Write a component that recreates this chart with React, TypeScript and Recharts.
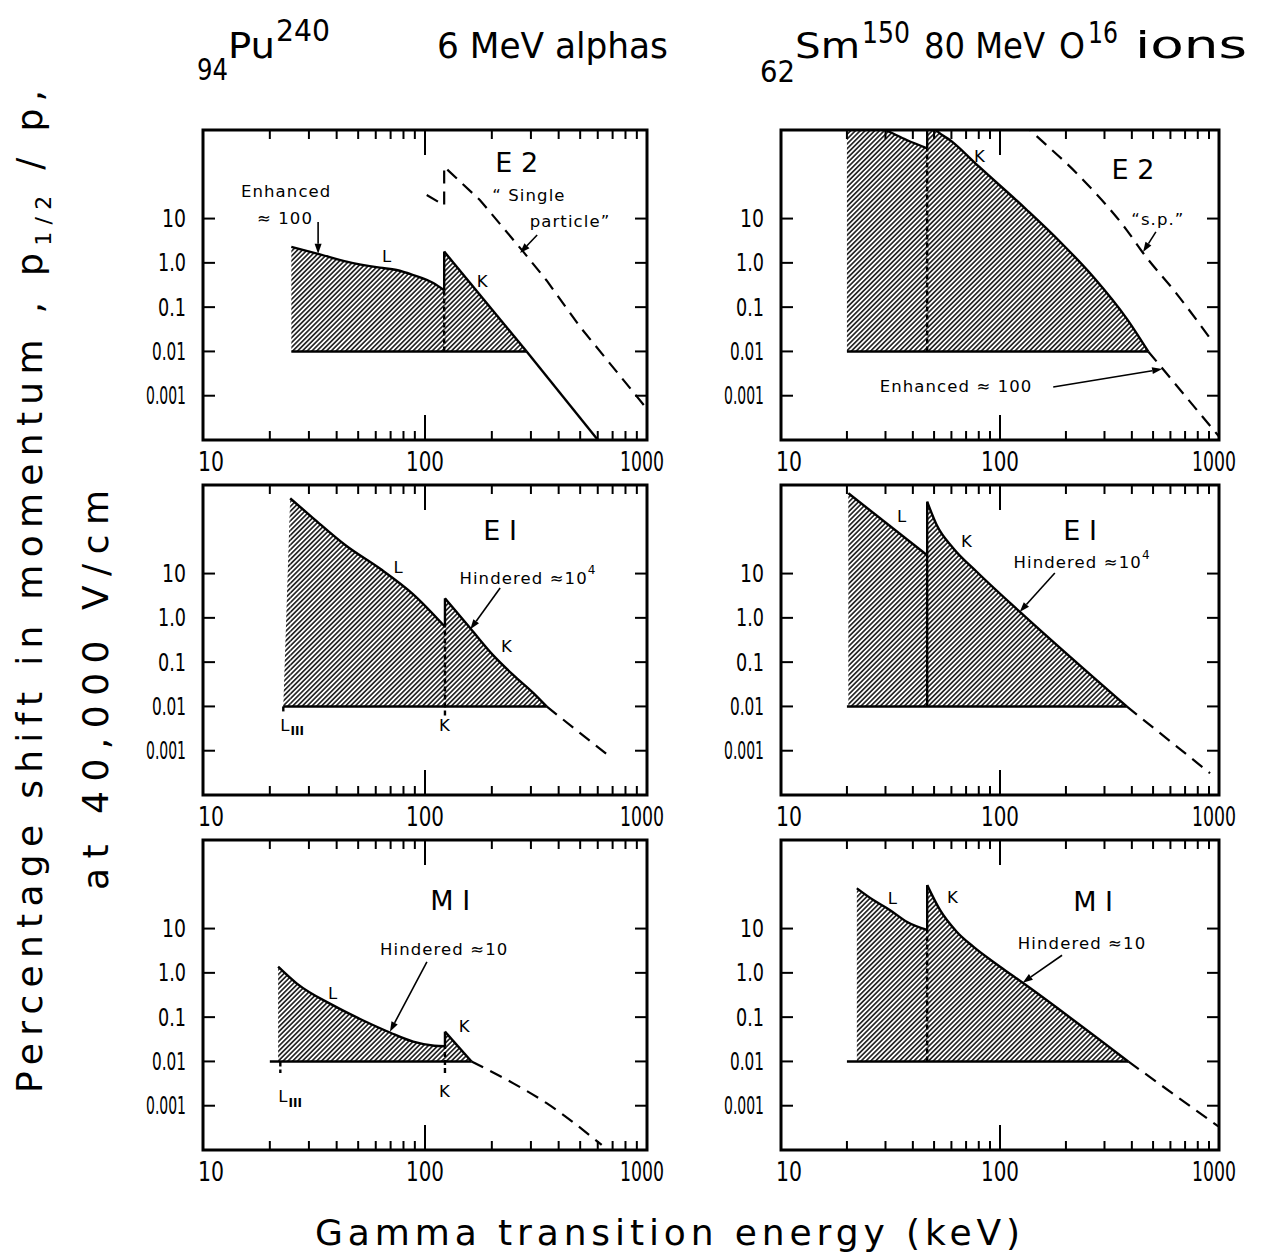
import React from "react";
import {
  ComposedChart,
  Area,
  Line,
  XAxis,
  YAxis,
  ReferenceLine,
  ReferenceDot,
  ReferenceArea,
} from "recharts";

type Pt = { e: number; v: number };
interface Lbl { e: number; v: number; text: string; sup?: string; sub?: string; big?: boolean }
interface Arrow { from: Pt; to: Pt }

const BASE = 0.01;
const X_DOMAIN = [10, 1000];
const Y_DOMAIN = [1e-4, 1e3];
const xTicks = [10, 100, 1000];
const xTickLabels = ["10", "100", "1000"];
const yTicks = [10, 1, 0.1, 0.01, 0.001];
const yTickLabels = ["10", "1.0", "0.1", "0.01", "0.001"];
const xMinorTicks = [20, 30, 40, 50, 60, 70, 80, 90, 200, 300, 400, 500, 600, 700, 800, 900];
const xMajorTicks = [100];

// ---------- Pu-240, E2 ----------
const puE2L: Pt[] = [
  { e: 25, v: 2.3 }, { e: 33.6, v: 1.56 }, { e: 44.3, v: 1.07 }, { e: 62.6, v: 0.78 },
  { e: 74.5, v: 0.69 }, { e: 88.5, v: 0.53 }, { e: 109, v: 0.35 }, { e: 122, v: 0.24 },
];
const puE2K: Pt[] = [{ e: 122, v: 1.8 }, { e: 287, v: 0.01 }];
const puE2Tail: Pt[] = [{ e: 287, v: 0.01 }, { e: 601, v: 1e-4 }];
const puE2Base: Pt[] = [{ e: 25, v: 0.01 }, { e: 287, v: 0.01 }];
const puE2EdgeDash: Pt[] = [{ e: 122, v: 0.01 }, { e: 122, v: 0.24 }];
const puE2EdgeSolid: Pt[] = [{ e: 122, v: 0.24 }, { e: 122, v: 1.8 }];
const puE2SP: Pt[] = [
  { e: 101.8, v: 34 }, { e: 122, v: 20 }, { e: 122, v: 148 }, { e: 177, v: 26 },
  { e: 277, v: 1.79 }, { e: 353, v: 0.4 }, { e: 499, v: 0.036 }, { e: 980, v: 5.7e-4 },
];
const puE2Labels: Lbl[] = [
  { e: 259, v: 180, text: "E 2", big: true },
  { e: 294, v: 34, text: "\u201C Single" },
  { e: 450, v: 8.4, text: "particle\u201D" },
  { e: 23.7, v: 40, text: "Enhanced" },
  { e: 23.4, v: 10.3, text: "\u2248 100" },
  { e: 67.5, v: 1.36, text: "L" },
  { e: 182, v: 0.37, text: "K" },
];
const puE2Arrows: Arrow[] = [
  { from: { e: 33, v: 8.4 }, to: { e: 33, v: 1.6 } },
  { from: { e: 320, v: 4.26 }, to: { e: 268, v: 1.67 } },
];

// ---------- Sm-150, E2 ----------
const smE2L: Pt[] = [
  { e: 20, v: 2200 }, { e: 25, v: 1450 }, { e: 30, v: 1000 }, { e: 37.5, v: 595 }, { e: 46.5, v: 387 },
];
const smE2K: Pt[] = [
  { e: 46.5, v: 1800 }, { e: 51, v: 1000 }, { e: 60, v: 560 }, { e: 80, v: 150 }, { e: 132, v: 16 },
  { e: 188, v: 3.0 }, { e: 267, v: 0.48 }, { e: 379, v: 0.055 }, { e: 475, v: 0.01 },
];
const smE2Base: Pt[] = [{ e: 20, v: 0.01 }, { e: 475, v: 0.01 }];
const smE2EdgeDash: Pt[] = [{ e: 46.5, v: 0.01 }, { e: 46.5, v: 387 }];
const smE2EdgeSolid: Pt[] = [{ e: 46.5, v: 387 }, { e: 46.5, v: 1800 }];
const smE2SP: Pt[] = [
  { e: 125, v: 1530 }, { e: 137, v: 1000 }, { e: 232, v: 88 }, { e: 379, v: 5.5 },
  { e: 451, v: 1.65 }, { e: 641, v: 0.2 }, { e: 910, v: 0.0198 },
];
const smE2Tail: Pt[] = [{ e: 475, v: 0.01 }, { e: 1000, v: 1.2e-4 }];
const smE2Labels: Lbl[] = [
  { e: 81, v: 246, text: "K" },
  { e: 405, v: 125, text: "E 2", big: true },
  { e: 526, v: 9.3, text: "\u201Cs.p.\u201D" },
  { e: 63, v: 1.58e-3, text: "Enhanced  \u2248 100" },
];
const smE2Arrows: Arrow[] = [
  { from: { e: 515, v: 5.0 }, to: { e: 450, v: 1.76 } },
  { from: { e: 175, v: 1.58e-3 }, to: { e: 550, v: 4.0e-3 } },
];

// ---------- Pu-240, E1 ----------
const puE1Wedge: Pt[] = [{ e: 23, v: 0.01 }, { e: 24.7, v: 500 }];
const puE1L: Pt[] = [
  { e: 24.7, v: 500 }, { e: 31.4, v: 177 }, { e: 44.3, v: 42 }, { e: 62.6, v: 13 },
  { e: 88.5, v: 3.4 }, { e: 123, v: 0.63 },
];
const puE1K: Pt[] = [
  { e: 123, v: 2.76 }, { e: 160, v: 0.58 }, { e: 202, v: 0.146 }, { e: 250, v: 0.051 },
  { e: 308, v: 0.02 }, { e: 353, v: 0.01 },
];
const puE1Tail: Pt[] = [{ e: 353, v: 0.01 }, { e: 693, v: 6.8e-4 }];
const puE1Base: Pt[] = [{ e: 23, v: 0.01 }, { e: 353, v: 0.01 }];
const puE1EdgeDash: Pt[] = [{ e: 123, v: 0.0062 }, { e: 123, v: 0.63 }];
const puE1EdgeSolid: Pt[] = [{ e: 123, v: 0.63 }, { e: 123, v: 2.76 }];
const puE1LIII: Pt[] = [{ e: 23, v: 0.01 }, { e: 23, v: 0.0068 }];
const puE1Labels: Lbl[] = [
  { e: 218, v: 96, text: "E I", big: true },
  { e: 76, v: 14, text: "L" },
  { e: 234, v: 0.22, text: "K" },
  { e: 291, v: 7.9, text: "Hindered  \u224810", sup: "4" },
  { e: 25.2, v: 3.8e-3, text: "L", sub: "III" },
  { e: 123, v: 3.8e-3, text: "K" },
];
const puE1Arrows: Arrow[] = [{ from: { e: 218, v: 4.7 }, to: { e: 160, v: 0.55 } }];

// ---------- Sm-150, E1 ----------
const smE1L: Pt[] = [{ e: 20.3, v: 650 }, { e: 46.5, v: 26 }];
const smE1K: Pt[] = [
  { e: 46.5, v: 420 }, { e: 51.4, v: 125 }, { e: 61.3, v: 37 }, { e: 78.3, v: 11 },
  { e: 123, v: 1.38 }, { e: 379, v: 0.01 },
];
const smE1Tail: Pt[] = [{ e: 379, v: 0.01 }, { e: 910, v: 3.1e-4 }];
const smE1Base: Pt[] = [{ e: 20, v: 0.01 }, { e: 379, v: 0.01 }];
const smE1EdgeSolid: Pt[] = [{ e: 46.5, v: 0.01 }, { e: 46.5, v: 420 }];
const smE1Labels: Lbl[] = [
  { e: 35.7, v: 190, text: "L" },
  { e: 70.6, v: 52, text: "K" },
  { e: 232, v: 96, text: "E I", big: true },
  { e: 237, v: 17.4, text: "Hindered  \u224810", sup: "4" },
];
const smE1Arrows: Arrow[] = [{ from: { e: 178, v: 10.3 }, to: { e: 123, v: 1.36 } }];

// ---------- Pu-240, M1 ----------
const puM1L: Pt[] = [
  { e: 21.8, v: 1.38 }, { e: 26.4, v: 0.58 }, { e: 38.6, v: 0.184 }, { e: 52.7, v: 0.084 },
  { e: 69.5, v: 0.045 }, { e: 88.5, v: 0.028 }, { e: 110, v: 0.0226 }, { e: 123, v: 0.022 },
];
const puM1K: Pt[] = [{ e: 123, v: 0.047 }, { e: 162, v: 0.01 }];
const puM1Tail: Pt[] = [
  { e: 162, v: 0.01 }, { e: 250, v: 0.0032 }, { e: 353, v: 0.00114 }, { e: 625, v: 1.3e-4 },
];
const puM1Base: Pt[] = [{ e: 20, v: 0.01 }, { e: 162, v: 0.01 }];
const puM1EdgeDash: Pt[] = [{ e: 123, v: 0.0055 }, { e: 123, v: 0.022 }];
const puM1EdgeSolid: Pt[] = [{ e: 123, v: 0.022 }, { e: 123, v: 0.047 }];
const puM1LIII: Pt[] = [{ e: 22.3, v: 0.01 }, { e: 22.3, v: 0.0055 }];
const puM1Labels: Lbl[] = [
  { e: 130, v: 44, text: "M I", big: true },
  { e: 122, v: 3.3, text: "Hindered  \u224810" },
  { e: 38.6, v: 0.35, text: "L" },
  { e: 151, v: 0.06, text: "K" },
  { e: 24.7, v: 1.58e-3, text: "L", sub: "III" },
  { e: 123, v: 2.05e-3, text: "K" },
];
const puM1Arrows: Arrow[] = [{ from: { e: 102, v: 1.76 }, to: { e: 69.5, v: 0.047 } }];

// ---------- Sm-150, M1 ----------
const smM1L: Pt[] = [
  { e: 22.2, v: 81 }, { e: 26.4, v: 44 }, { e: 31.5, v: 26 }, { e: 37.5, v: 14.3 }, { e: 46.5, v: 9.3 },
];
const smM1K: Pt[] = [
  { e: 46.5, v: 96 }, { e: 53.2, v: 26.3 }, { e: 63.4, v: 8.5 }, { e: 75.5, v: 3.9 },
  { e: 100, v: 1.38 }, { e: 128, v: 0.58 }, { e: 385, v: 0.01 },
];
const smM1Tail: Pt[] = [{ e: 385, v: 0.01 }, { e: 993, v: 3.4e-4 }];
const smM1Base: Pt[] = [{ e: 20, v: 0.01 }, { e: 385, v: 0.01 }];
const smM1EdgeDash: Pt[] = [{ e: 46.5, v: 0.01 }, { e: 46.5, v: 9.3 }];
const smM1EdgeSolid: Pt[] = [{ e: 46.5, v: 9.3 }, { e: 46.5, v: 96 }];
const smM1Labels: Lbl[] = [
  { e: 32.4, v: 49, text: "L" },
  { e: 61, v: 50, text: "K" },
  { e: 266, v: 40, text: "M I", big: true },
  { e: 237, v: 4.7, text: "Hindered  \u224810" },
];
const smM1Arrows: Arrow[] = [{ from: { e: 192, v: 2.5 }, to: { e: 127, v: 0.6 } }];

// ---------- layout / style ----------
const FONT_NARROW = "'Liberation Sans Narrow','DejaVu Sans Condensed','DejaVu Sans',sans-serif";
const FONT_SANS = "'DejaVu Sans','Noto Sans',sans-serif";
const LW = 2.4;
const xTickWidths = [26, 38, 44];
const yTickWidths = [24, 28, 28, 34, 40];

interface PanelCfg {
  id: string;
  left: number;
  top: number;
  w: number;
  h: number;
  areas: Pt[][];
  areasLinear?: Pt[][];
  solid: Pt[][];
  solidLinear: Pt[][];
  dashed: Pt[][];
  dashedLinear?: Pt[][];
  edgeDash: Pt[][];
  labels: Lbl[];
  arrows: Arrow[];
}

const panels: PanelCfg[] = [
  {
    id: "a", left: 203, top: 130, w: 444, h: 310,
    areas: [puE2L, puE2K],
    solid: [puE2L],
    solidLinear: [puE2K, puE2Tail, puE2Base, puE2EdgeSolid],
    dashed: [],
    dashedLinear: [puE2SP],
    edgeDash: [puE2EdgeDash],
    labels: puE2Labels, arrows: puE2Arrows,
  },
  {
    id: "b", left: 781, top: 130, w: 438, h: 310,
    areas: [smE2L, smE2K],
    solid: [smE2L, smE2K],
    solidLinear: [smE2Base, smE2EdgeSolid],
    dashed: [smE2SP],
    dashedLinear: [smE2Tail],
    edgeDash: [smE2EdgeDash],
    labels: smE2Labels, arrows: smE2Arrows,
  },
  {
    id: "c", left: 203, top: 485, w: 444, h: 310,
    areas: [puE1L, puE1K],
    areasLinear: [puE1Wedge],
    solid: [puE1L, puE1K],
    solidLinear: [puE1Base, puE1EdgeSolid],
    dashed: [],
    dashedLinear: [puE1Tail],
    edgeDash: [puE1EdgeDash, puE1LIII],
    labels: puE1Labels, arrows: puE1Arrows,
  },
  {
    id: "d", left: 781, top: 485, w: 438, h: 310,
    areas: [smE1L, smE1K],
    solid: [smE1K],
    solidLinear: [smE1L, smE1Base, smE1EdgeSolid],
    dashed: [],
    dashedLinear: [smE1Tail],
    edgeDash: [],
    labels: smE1Labels, arrows: smE1Arrows,
  },
  {
    id: "e", left: 203, top: 840, w: 444, h: 310,
    areas: [puM1L, puM1K],
    solid: [puM1L],
    solidLinear: [puM1K, puM1Base, puM1EdgeSolid],
    dashed: [puM1Tail],
    edgeDash: [puM1EdgeDash, puM1LIII],
    labels: puM1Labels, arrows: puM1Arrows,
  },
  {
    id: "f", left: 781, top: 840, w: 438, h: 310,
    areas: [smM1L, smM1K],
    solid: [smM1L, smM1K],
    solidLinear: [smM1Base, smM1EdgeSolid],
    dashed: [],
    dashedLinear: [smM1Tail],
    edgeDash: [smM1EdgeDash],
    labels: smM1Labels, arrows: smM1Arrows,
  },
];

const toRange = (pts: Pt[]) => pts.map((p) => ({ e: p.e, r: [BASE, p.v] }));

const XTick = (p: any) => {
  const i = xTicks.indexOf(p.payload.value);
  const dx = i === 0 ? 8 : i === 2 ? -5 : 0;
  return (
    <text x={p.x + dx} y={p.y} dy="0.75em" textAnchor="middle" fontFamily={FONT_SANS} fontSize={26}
      textLength={xTickWidths[i]} lengthAdjust="spacingAndGlyphs" fill="#000">
      {xTickLabels[i]}
    </text>
  );
};
const YTick = (p: any) => {
  const i = yTicks.indexOf(p.payload.value);
  return (
    <text x={p.x} y={p.y} dy="0.36em" textAnchor="end" fontFamily={FONT_SANS} fontSize={24}
      textLength={yTickWidths[i]} lengthAdjust="spacingAndGlyphs" fill="#000">
      {yTickLabels[i]}
    </text>
  );
};

const yTickShape = (p: any) => (
  <g stroke="#000" strokeWidth={2}>
    <line x1={p.x1} x2={p.x1 + 12} y1={p.y1} y2={p.y1} />
    <line x1={p.x2 - 12} x2={p.x2} y1={p.y2} y2={p.y2} />
  </g>
);
const xTickShape = (len: number) => (p: any) => {
  const t = Math.min(p.y1, p.y2);
  const b = Math.max(p.y1, p.y2);
  return (
    <g stroke="#000" strokeWidth={2}>
      <line x1={p.x1} x2={p.x1} y1={t} y2={t + len} />
      <line x1={p.x1} x2={p.x1} y1={b - len} y2={b} />
    </g>
  );
};
const arrowShape = (p: any) => {
  const dx = p.x2 - p.x1;
  const dy = p.y2 - p.y1;
  const L = Math.sqrt(dx * dx + dy * dy) || 1;
  const ux = dx / L, uy = dy / L;
  const hl = 10, hw = 3.5;
  const bx = p.x2 - ux * hl, by = p.y2 - uy * hl;
  return (
    <g>
      <line x1={p.x1} y1={p.y1} x2={bx} y2={by} stroke="#000" strokeWidth={1.6} />
      <polygon
        points={`${p.x2},${p.y2} ${bx - uy * hw},${by + ux * hw} ${bx + uy * hw},${by - ux * hw}`}
        fill="#000"
      />
    </g>
  );
};
const labelShape = (l: Lbl) => (p: any) => (
  <text
    x={p.cx}
    y={p.cy}
    textAnchor="middle"
    dominantBaseline="central"
    fontFamily={FONT_SANS}
    fontSize={l.big ? 27 : 16.5}
    letterSpacing={l.big ? 0 : 1.1}
    fill="#000"
  >
    {l.text}
    {l.sup ? <tspan dy={-8} fontSize={12}>{l.sup}</tspan> : null}
    {l.sub ? <tspan dy={6} fontSize={12} fontWeight="bold" letterSpacing={0}>{l.sub}</tspan> : null}
  </text>
);

function Panel({ cfg }: { cfg: PanelCfg }) {
  const ML = 100, MR = 45, MT = 10, XH = 45;
  const W = cfg.w + ML + MR;
  const H = cfg.h + MT + XH;
  const hid = `hatch-${cfg.id}`;
  return (
    <div style={{ position: "absolute", left: cfg.left - ML, top: cfg.top - MT }}>
      <ComposedChart width={W} height={H} margin={{ top: MT, right: MR, bottom: 0, left: 0 }}>
        <defs>
          <pattern id={hid} patternUnits="userSpaceOnUse" width={3.4} height={3.4} patternTransform="rotate(45)">
            <rect width={3.4} height={3.4} fill="#fff" />
            <line x1={1.7} y1={0} x2={1.7} y2={3.4} stroke="#1a1a1a" strokeWidth={1.6} />
          </pattern>
        </defs>
        <XAxis
          type="number"
          dataKey="e"
          scale="log"
          domain={X_DOMAIN}
          allowDataOverflow
          ticks={xTicks}
          interval={0}
          tickLine={false}
          axisLine={false}
          height={XH}
          tickSize={6}
          tickMargin={5}
          tick={<XTick />}
        />
        <YAxis
          type="number"
          scale="log"
          domain={Y_DOMAIN}
          allowDataOverflow
          ticks={yTicks}
          interval={0}
          tickLine={false}
          axisLine={false}
          width={ML}
          tickSize={6}
          tickMargin={11}
          tick={<YTick />}
        />
        {cfg.areas.map((a, i) => (
          <Area key={`a${i}`} data={toRange(a)} dataKey="r" type="monotone" stroke="none"
            fill={`url(#${hid})`} fillOpacity={1} isAnimationActive={false} dot={false} activeDot={false} />
        ))}
        {(cfg.areasLinear || []).map((a, i) => (
          <Area key={`al${i}`} data={toRange(a)} dataKey="r" type="linear" stroke="none"
            fill={`url(#${hid})`} fillOpacity={1} isAnimationActive={false} dot={false} activeDot={false} />
        ))}
        {cfg.solid.map((d, i) => (
          <Line key={`s${i}`} data={d} dataKey="v" type="monotone" stroke="#000" strokeWidth={LW}
            dot={false} activeDot={false} isAnimationActive={false} />
        ))}
        {cfg.solidLinear.map((d, i) => (
          <Line key={`sl${i}`} data={d} dataKey="v" type="linear" stroke="#000" strokeWidth={LW}
            dot={false} activeDot={false} isAnimationActive={false} />
        ))}
        {cfg.dashed.map((d, i) => (
          <Line key={`d${i}`} data={d} dataKey="v" type="monotone" stroke="#000" strokeWidth={2.2}
            strokeDasharray="13 8" dot={false} activeDot={false} isAnimationActive={false} />
        ))}
        {(cfg.dashedLinear || []).map((d, i) => (
          <Line key={`dl${i}`} data={d} dataKey="v" type="linear" stroke="#000" strokeWidth={2.2}
            strokeDasharray="13 8" dot={false} activeDot={false} isAnimationActive={false} />
        ))}
        {cfg.edgeDash.map((d, i) => (
          <Line key={`ed${i}`} data={d} dataKey="v" type="linear" stroke="#000" strokeWidth={2.4}
            strokeDasharray="5 3" dot={false} activeDot={false} isAnimationActive={false} />
        ))}
        {yTicks.map((t) => (
          <ReferenceLine key={`yt${t}`} y={t} shape={yTickShape} ifOverflow="visible" />
        ))}
        {xMinorTicks.map((t) => (
          <ReferenceLine key={`xm${t}`} x={t} shape={xTickShape(9)} ifOverflow="visible" />
        ))}
        {xMajorTicks.map((t) => (
          <ReferenceLine key={`xM${t}`} x={t} shape={xTickShape(25)} ifOverflow="visible" />
        ))}
        {cfg.arrows.map((a, i) => (
          <ReferenceLine key={`ar${i}`} segment={[{ x: a.from.e, y: a.from.v }, { x: a.to.e, y: a.to.v }]}
            shape={arrowShape} ifOverflow="visible" />
        ))}
        {cfg.labels.map((l, i) => (
          <ReferenceDot key={`lb${i}`} x={l.e} y={l.v} r={0} shape={labelShape(l)} ifOverflow="visible" />
        ))}
        <ReferenceArea x1={X_DOMAIN[0]} x2={X_DOMAIN[1]} y1={Y_DOMAIN[0]} y2={Y_DOMAIN[1]}
          fill="none" stroke="#000" strokeWidth={3} ifOverflow="visible" />
      </ComposedChart>
    </div>
  );
}

function Titles() {
  return (
    <svg width={1268} height={1259} style={{ position: "absolute", left: 0, top: 0 }}>
      <g fontFamily={FONT_NARROW} fill="#000">
        <text x={197} y={80} fontSize={30} textLength={31} lengthAdjust="spacingAndGlyphs">94</text>
        <text x={228} y={58} fontSize={36} textLength={47} lengthAdjust="spacingAndGlyphs">Pu</text>
        <text x={276} y={41} fontSize={30} textLength={54} lengthAdjust="spacingAndGlyphs">240</text>
        <text x={437} y={58} fontSize={36} textLength={231} lengthAdjust="spacingAndGlyphs">6 MeV  alphas</text>
        <text x={760} y={82} fontSize={30} textLength={35} lengthAdjust="spacingAndGlyphs">62</text>
        <text x={795} y={58} fontSize={36} textLength={65} lengthAdjust="spacingAndGlyphs">Sm</text>
        <text x={862} y={43} fontSize={30} textLength={48} lengthAdjust="spacingAndGlyphs">150</text>
        <text x={924} y={58} fontSize={36} textLength={121} lengthAdjust="spacingAndGlyphs">80 MeV</text>
        <text x={1059} y={58} fontSize={36} textLength={26} lengthAdjust="spacingAndGlyphs">O</text>
        <text x={1088} y={43} fontSize={30} textLength={30} lengthAdjust="spacingAndGlyphs">16</text>
        <text x={1135} y={58} fontSize={38} textLength={112} lengthAdjust="spacingAndGlyphs">ions</text>
      </g>
      <g fontFamily={FONT_SANS} fill="#000">
        <text transform="translate(42,1093) rotate(-90)" fontSize={36} textLength={1003} lengthAdjust="spacing">
          Percentage shift in momentum , p<tspan dy={9} fontSize={22}>1/2</tspan>
          <tspan dy={-9}> / p,</tspan>
        </text>
        <text transform="translate(108,890) rotate(-90)" fontSize={36} textLength={400} lengthAdjust="spacing">
          at   40,000  V/cm
        </text>
        <text x={315} y={1245} fontSize={36} textLength={705} lengthAdjust="spacing">
          Gamma  transition  energy    (keV)
        </text>
      </g>
    </svg>
  );
}

export default function App() {
  return (
    <div style={{ position: "absolute", left: 0, top: 0, width: 1268, height: 1259, background: "#fff", overflow: "hidden" }}>
      <Titles />
      {panels.map((p) => (
        <Panel key={p.id} cfg={p} />
      ))}
    </div>
  );
}
